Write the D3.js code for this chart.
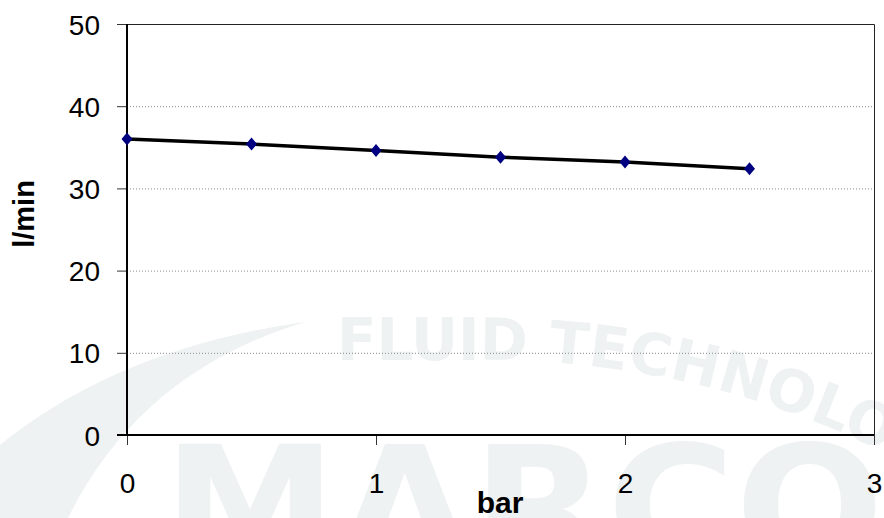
<!DOCTYPE html>
<html lang="en">
<head>
    <meta charset="UTF-8">
    <title>l/min vs bar</title>
    <script src="https://d3js.org/d3.v7.min.js"></script>
    <style>
        body { margin: 0; background: #fff; }
        svg { display: block; font-family: "Liberation Sans", Arial, sans-serif; }
        .tick-label { font-size: 28px; fill: #000; }
        .axis-title { font-size: 30px; font-weight: bold; fill: #000; }
        .grid { stroke: #8a8a8a; stroke-width: 1; stroke-dasharray: 1,2; }
        .mark { fill: #eef2f2; }
    </style>
</head>
<body>
    <svg id="chart"></svg>

    <script>
        // data
        const pressure = [0, 0.5, 1, 1.5, 2, 2.5];          // bar
        const flow = [36.0, 35.4, 34.6, 33.8, 33.2, 32.4]; // l/min
        const xTicks = [0, 1, 2, 3];
        const yTicks = [0, 10, 20, 30, 40, 50];

        const width = 884;
        const height = 518;
        const svg = d3.select("#chart").attr("width", width).attr("height", height);

        const x = d3.scaleLinear().domain([0, 3]).range([127, 874]);
        const y = d3.scaleLinear().domain([0, 50]).range([435, 24]);

        // watermark in the background
        const wm = svg.append("g");
        wm.append("path")
          .attr("class", "mark")
          .attr("d", "M0,445 Q120,348 305,322 Q140,372 68,518 L0,518 Z");
        wm.append("text")
          .attr("class", "mark")
          .attr("x", 163).attr("y", 566)
          .attr("textLength", 721)
          .attr("lengthAdjust", "spacingAndGlyphs")
          .style("font-family", "'DejaVu Sans'")
          .style("font-size", "168px")
          .style("font-weight", "bold")
          .text("MARCO");
        wm.append("path")
          .attr("id", "arc")
          .attr("fill", "none")
          .attr("d", "M330,360 L500,360 A900,900 0 0,1 1000,520");
        wm.append("text")
          .attr("class", "mark")
          .style("font-family", "'DejaVu Sans Condensed', 'DejaVu Sans'")
          .style("font-size", "58px")
          .style("font-weight", "bold")
          .append("textPath")
          .attr("href", "#arc")
          .attr("startOffset", 7)
          .attr("textLength", 650)
          .attr("lengthAdjust", "spacingAndGlyphs")
          .text("FLUID TECHNOLOGY");

        // gridlines
        svg.selectAll(".grid")
          .data(yTicks.filter(d => d > 0))
          .enter().append("line")
          .attr("class", "grid")
          .attr("x1", x(0)).attr("x2", x(3))
          .attr("y1", d => y(d) + 0.5).attr("y2", d => y(d) + 0.5);

        // plot frame: top and right
        svg.append("path")
          .attr("fill", "none")
          .attr("stroke", "#222")
          .attr("stroke-width", 1)
          .attr("d", `M${x(0)},${y(50) + 0.5} H${x(3) + 0.5} V${y(0)}`);

        // axes
        const yAxis = d3.axisLeft(y).tickValues(yTicks).tickSize(10).tickPadding(17);
        const gy = svg.append("g").attr("transform", `translate(${x(0)},0)`).call(yAxis);
        const xAxis = d3.axisBottom(x).tickValues(xTicks).tickFormat(d3.format("d"))
          .tickSize(10).tickPadding(34);
        const gx = svg.append("g").attr("transform", `translate(0,${y(0)})`).call(xAxis);

        [gx, gy].forEach(g => {
          g.select(".domain").remove();
          g.selectAll(".tick line").attr("stroke", "#333");
          g.selectAll(".tick text").attr("class", "tick-label").attr("font-size", null).attr("font-family", null);
        });
        gy.selectAll(".tick text").attr("dy", "0.36em");
        gx.selectAll(".tick text").attr("dy", "0.5em");

        svg.append("line")
          .attr("stroke", "#000").attr("stroke-width", 2)
          .attr("x1", x(0)).attr("x2", x(0))
          .attr("y1", y(50)).attr("y2", y(0));
        svg.append("line")
          .attr("stroke", "#000").attr("stroke-width", 2)
          .attr("x1", x(0) - 10).attr("x2", x(3))
          .attr("y1", y(0)).attr("y2", y(0));

        // axis titles
        svg.append("text")
          .attr("class", "axis-title")
          .attr("x", 500).attr("y", 513)
          .attr("text-anchor", "middle")
          .text("bar");
        svg.append("text")
          .attr("class", "axis-title")
          .attr("transform", "translate(34,214) rotate(-90)")
          .attr("text-anchor", "middle")
          .style("font-size", "29px")
          .text("l/min");

        // series
        const points = pressure.map((p, i) => ({ p: p, q: flow[i] }));
        svg.append("path")
          .datum(points)
          .attr("fill", "none")
          .attr("stroke", "#000")
          .attr("stroke-width", 3.5)
          .attr("d", d3.line().x(d => x(d.p)).y(d => y(d.q)));

        svg.selectAll(".pt")
          .data(points)
          .enter().append("path")
          .attr("class", "pt")
          .attr("fill", "#000080")
          .attr("transform", d => `translate(${x(d.p)},${y(d.q)})`)
          .attr("d", "M0,-6.5 L5.5,0 L0,6.5 L-5.5,0 Z");
    </script>
</body>
</html>
